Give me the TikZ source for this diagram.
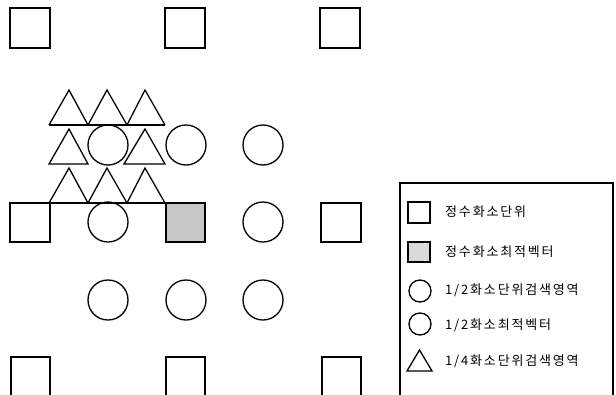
\documentclass[tikz,border=0pt]{standalone}
\usepackage{fontspec}
\newfontfamily\kr[LetterSpace=14]{Noto Sans CJK KR}
\begin{document}
\begin{tikzpicture}[x=1pt,y=-1pt,
  shp/.style={draw=black,line width=1.3pt,fill=white},
  shade/.style={draw=black,line width=1.3pt,fill=black!22},
  tri/.style={draw=black,line width=1.3pt,line join=miter},
  lbl/.style={anchor=west,inner sep=0pt,font=\kr\fontsize{13}{13}\selectfont}]
\useasboundingbox (0,0) rectangle (616,394);
\clip (0,0) rectangle (616,394);
% squares
\draw[shp] (10,8) rectangle (50,48);
\draw[shp] (165,8) rectangle (205,48);
\draw[shp] (320,8) rectangle (360,48);
\draw[shp] (10,203) rectangle (50,242);
\draw[shade] (166,203) rectangle (205,242);
\draw[shp] (321,203) rectangle (361,242);
\draw[shp] (11,357) rectangle (50,400);
\draw[shp] (166,357) rectangle (205,400);
\draw[shp] (322,357) rectangle (361,400);
% circles
\foreach \cx/\cy in {108/145,186/145,263/145,108/222,263/222,108/300,186/300,263/300}
  \draw[shp] (\cx,\cy) circle (20);
% triangles top row
\draw[tri] (49,125) -- (165,125);
\draw[tri] (49,125) -- (69,90) -- (88,125) -- (107,90) -- (127,125) -- (145,90) -- (165,125);
% middle row
\draw[tri] (49,164) -- (69,129) -- (88,164) -- cycle;
\draw[tri] (124,164) -- (145,129) -- (165,164) -- cycle;
% bottom row
\draw[tri] (49,203) -- (165,203);
\draw[tri] (49,203) -- (69,168) -- (88,203) -- (107,168) -- (127,203) -- (145,168) -- (165,203);
% legend box
\draw[line width=1.2pt] (400,400) -- (400,183) -- (613,183) -- (613,400);
\draw[shp] (408,202) rectangle (430,223);
\draw[shade,fill=black!15] (408,242) rectangle (430,262);
\draw[shp] (420,291) circle (11);
\draw[shp] (420,324) circle (11);
\draw[tri] (407,371) -- (419.5,350) -- (432,371) -- cycle;
\node[lbl] (l1) at (445,212) {정수화소단위};
\node[lbl] (l2) at (445,252) {정수화소최적벡터};
\node[lbl] (l3) at (445,290) {1/2화소단위검색영역};
\node[lbl] (l4) at (445,325) {1/2화소최적벡터};
\node[lbl] (l5) at (445,361) {1/4화소단위검색영역};
\end{tikzpicture}
\end{document}
